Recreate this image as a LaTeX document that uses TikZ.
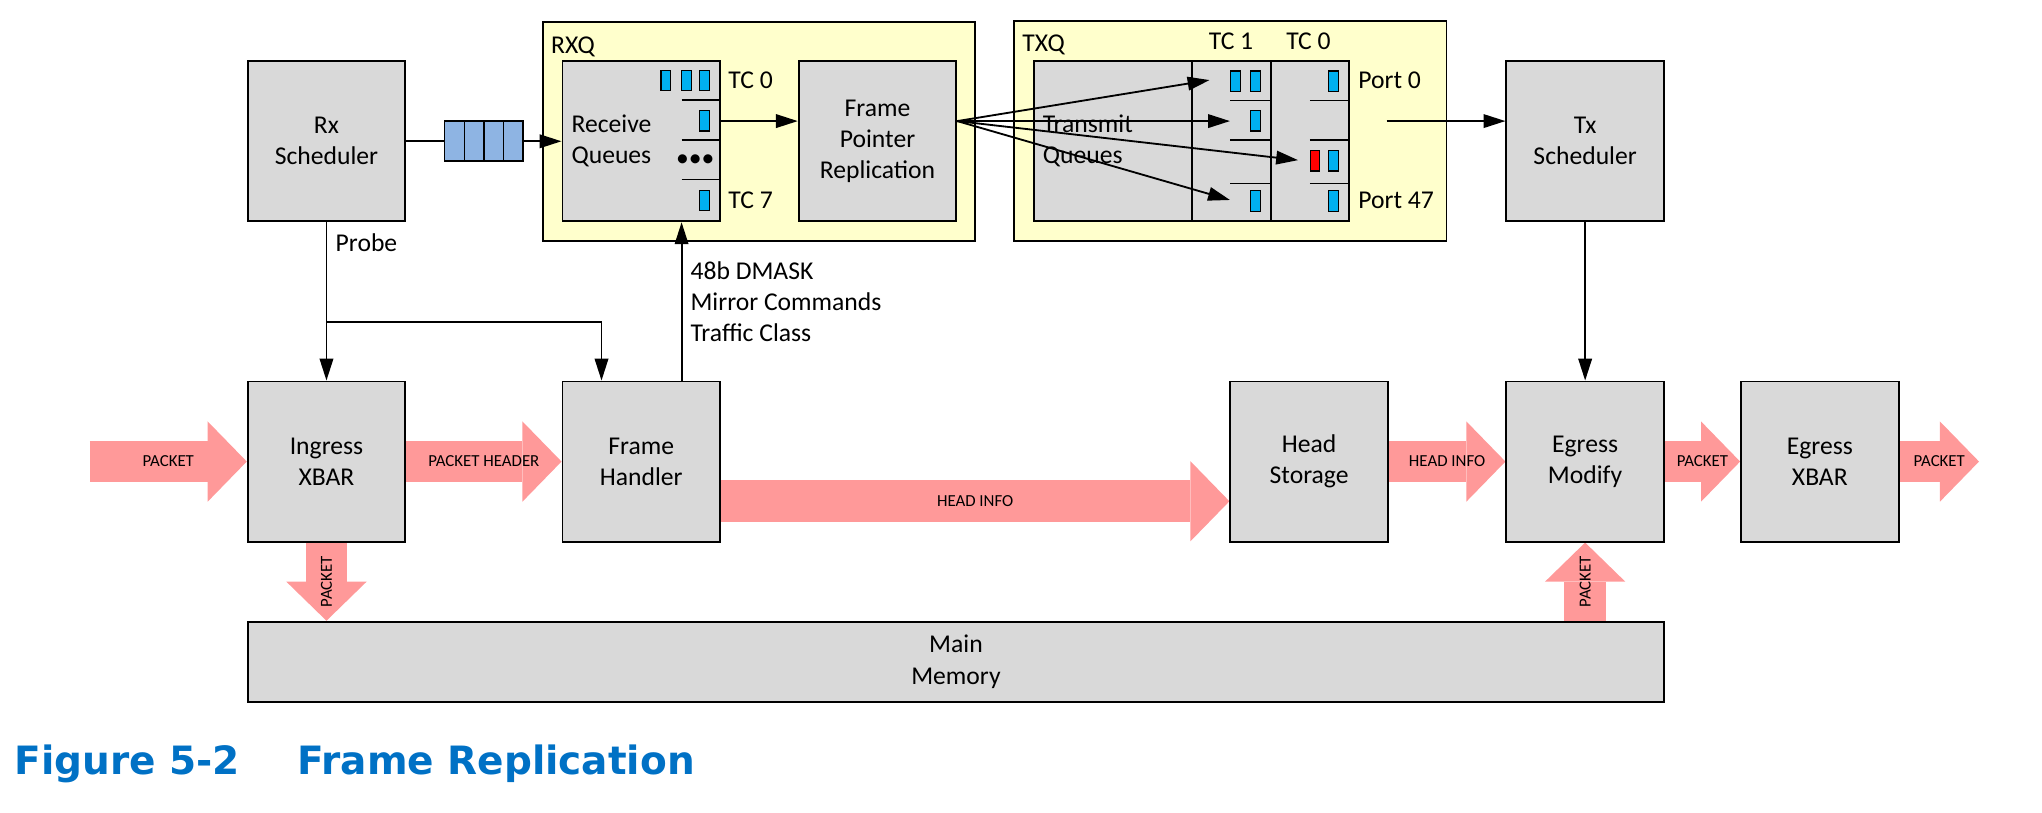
\documentclass[tikz,border=0pt]{standalone}
\usepackage{fontspec}
\setmainfont{Carlito}
\newfontfamily\capfont{DejaVu Sans}
\usetikzlibrary{arrows.meta}
\usetikzlibrary{quotes}
\usetikzlibrary{backgrounds}

\definecolor{boxgray}{RGB}{217,217,217}
\definecolor{qyellow}{RGB}{255,255,204}
\definecolor{slotblue}{RGB}{0,176,240}
\definecolor{fifoblue}{RGB}{142,180,227}
\definecolor{pktpink}{RGB}{255,153,153}
\definecolor{capblue}{RGB}{0,113,197}

\begin{document}
\begin{tikzpicture}[x=0.025cm,y=-0.025cm,inner sep=0pt,
    font=\fontsize{14}{17}\selectfont,
    every edge quotes/.style={font=\fontsize{9.2}{11}\selectfont},
    blk/.style={draw,line width=1pt,fill=boxgray,minimum width=3.025cm,minimum height=3.075cm,align=center},
    grp/.style={draw,line width=1pt,fill=qyellow},
    slot/.style={draw,line width=0.6pt,fill=slotblue,minimum width=0.19cm,minimum height=0.39cm},
    fifo/.style={draw,line width=0.8pt,fill=fifoblue,minimum width=0.375cm,minimum height=0.77cm},
    sep/.style={line width=0.6pt},
    link/.style={draw,line width=1pt,-{Triangle[length=0.42cm,width=0.26cm]}},
    fat/.style={draw=pktpink,line width=0.8cm,-{Triangle[length=0.75cm,width=1.54cm,line width=0pt]}},
    vlbl/.style={rotate=90},
    probelbl/.style={font=\fontsize{14}{17}\selectfont,anchor=west,pos=.13,xshift=0.16cm},
    dmlbl/.style={font=\fontsize{14}{17}\selectfont,align=left,anchor=west,xshift=0.155cm}]
    \useasboundingbox (0,0) rectangle (1568.4,623.7);
    \node[grp,minimum width=8.305cm,minimum height=4.205cm] (rxq) at (582.9,100.7) {};
    \node[anchor=west] (rxqlbl) at (423,35.8) {RXQ};
    \node[grp,minimum width=8.3cm,minimum height=4.225cm] (txq) at (945,100.5) {};
    \node[anchor=west] (txqlbl) at (785,34.5) {TXQ};
    \node[blk] (rxs) at (250.75,108.5) {Rx\\Scheduler};
    \node[blk,align=left,text width=2.675cm,inner xsep=0.175cm] (rq) at (492.5,108.5) {Receive\\Queues};
    \node[blk] (fpr) at (674,108.5) {Frame\\Pointer\\Replication};
    \node[blk,minimum width=6.05cm,align=left,text width=5.7cm,inner xsep=0.175cm] (tq) at (915,108.5) {Transmit\\Queues};
    \node[blk] (txs) at (1217.5,108.5) {Tx\\Scheduler};
    \node[blk] (ixb) at (250.75,354.5) {Ingress\\XBAR};
    \node[blk] (fh) at (492.5,354.5) {Frame\\Handler};
    \node[blk] (hs) at (1005.5,354.5) {Head\\Storage};
    \node[blk] (em) at (1217.5,354.5) {Egress\\Modify};
    \node[blk] (exb) at (1397.75,354.5) {Egress\\XBAR};
    \node[blk,minimum width=27.1875cm,minimum height=1.5375cm] (mem) at (734.25,508.25) {Main\\Memory};
    \draw[line width=1pt] (915.5,47) -- (915.5,170) (976,47) -- (976,170);
    \foreach \y in {76.8,107.5,138} \draw[sep] (523.5,\y) -- (553,\y);
    \foreach \y in {77,107.5,141} \draw[sep] (945,\y) -- (976,\y) (1006,\y) -- (1036,\y);
    \foreach \x/\y [count=\i] in {511.5/62,527/62,541.3/62,541.3/92.8,541.3/154.2}
      \node[slot] (rs\i) at (\x,\y) {};
    \foreach \x/\y [count=\i] in {949/62.3,964.5/62.3,1024.5/62.3,964.5/92.8,1024.5/123.5,964.5/154.3,1024.5/154.3}
      \node[slot] (ts\i) at (\x,\y) {};
    \node[slot,fill=red] (tsred) at (1010,123.5) {};
    \node (dots) at (534,123.7) {\textbullet\textbullet\textbullet};
    \node (rtc0) at (576.5,62) {TC 0};
    \node (rtc7) at (576.5,153.6) {TC 7};
    \node (ttc1) at (945.5,32) {TC 1};
    \node (ttc0) at (1005,32) {TC 0};
    \node[anchor=west] (p0) at (1043,61.5) {Port 0};
    \node[anchor=west] (p47) at (1043,153.6) {Port 47};
    \node[anchor=base west,text=capblue,font=\capfont\bfseries\fontsize{21.3}{25}\selectfont] (cap) at (11,594.5) {Figure 5-2\hspace{1.1cm}Frame Replication};
    \coordinate (lvl) at (0,93);
    \coordinate (hi) at (0,385);
    \coordinate (br) at (462,247);
    \coordinate (dm) at (523.5,0);
    \coordinate (pin) at (69,354.5);
    \coordinate (pout) at (1520,354.5);
    \coordinate (t1) at (929,61.5);
    \coordinate (t2) at (944.7,93);
    \coordinate (t3) at (997,123);
    \coordinate (t4) at (944.7,153.6);
    \coordinate (txo) at (1065,93);
    \draw (rxs) edge[link] (rq);
    \foreach \i in {0,...,3}
      \node[fifo] (f\i) at (349.1+15*\i,108.4) {};
    \draw (rq.east |- lvl) edge[link] (fpr.west |- lvl);
    \draw (fpr.east |- lvl) edge[link] (t1) edge[link] (t2) edge[link] (t3) edge[link] (t4);
    \draw (txo) edge[link] (txs.west |- lvl);
    \draw (rxs) edge[link,"Probe" probelbl] (ixb);
    \draw[link] (br -| rxs) -| (fh.north -| br);
    \draw (fh.north -| dm) edge[link,"48b DMASK\\Mirror Commands\\Traffic Class" dmlbl] (rq.south -| dm);
    \draw (txs) edge[link] (em);
    \begin{scope}[on background layer]
    \draw (pin) edge[fat,"PACKET"] (ixb)
          (ixb) edge[fat,"PACKET HEADER"] (fh)
          (fh.east |- hi) edge[fat,"HEAD INFO"] (hs.west |- hi)
          (hs) edge[fat,"HEAD INFO"] (em)
          (em) edge[fat,"PACKET"] (exb)
          (exb) edge[fat,"PACKET"] (pout)
          (ixb) edge[fat,"PACKET" vlbl] (ixb.south |- mem.north)
          (em.south |- mem.north) edge[fat,"PACKET" vlbl] (em);
    \end{scope}
\end{tikzpicture}
\end{document}
